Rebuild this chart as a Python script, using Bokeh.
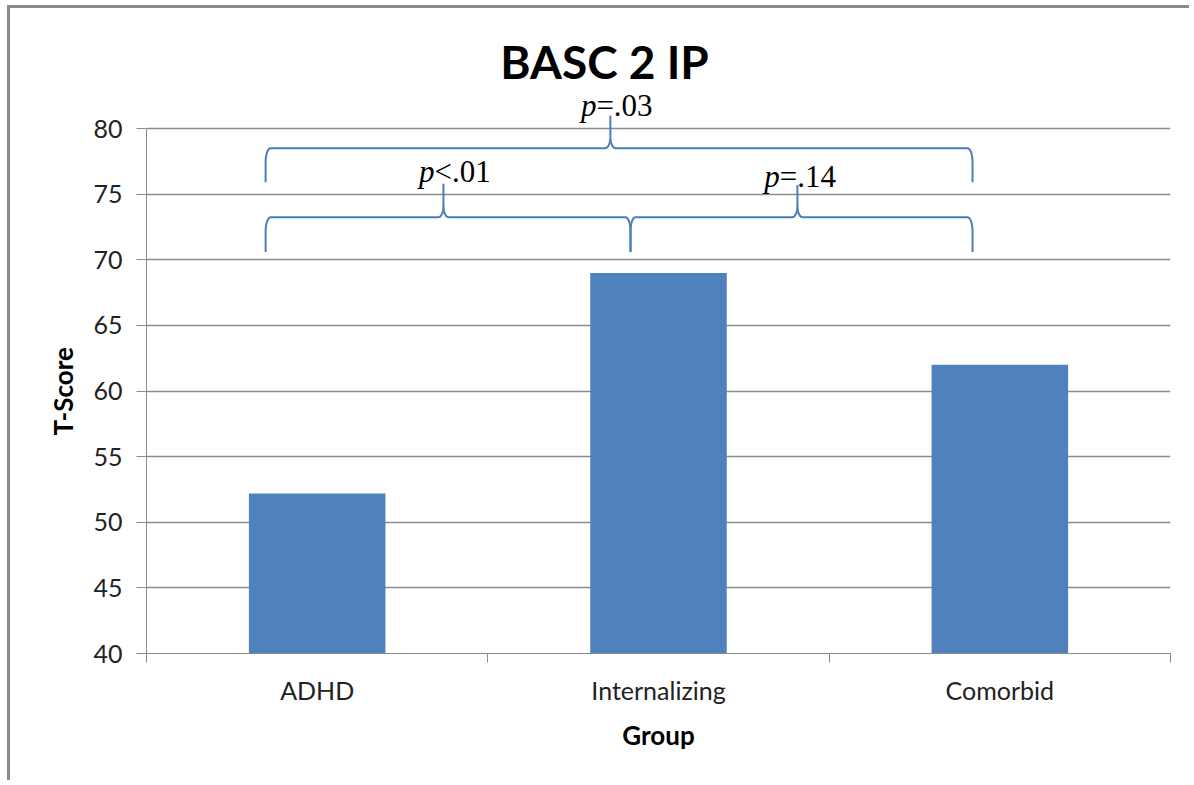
import numpy as np
from bokeh.plotting import figure
from bokeh.models import Range1d, FixedTicker, ColumnDataSource, Title
from bokeh.core.properties import value
from bokeh.embed import file_html
from bokeh.resources import INLINE

# ---- data ----
categories = ["ADHD", "Internalizing", "Comorbid"]
tscores = [52.2, 69.0, 62.0]
y_ticks = [40, 45, 50, 55, 60, 65, 70, 75, 80]
title_text = "BASC 2 IP"
x_label = "Group"
y_label = "T-Score"

# comparison braces: start, end, peak (category units), level, tip, ends (T-score units)
brace_x0 = [0.349, 0.349, 1.418]
brace_x1 = [2.42, 1.418, 2.42]
brace_peak = [1.359, 0.870, 1.907]
brace_level = [78.5, 73.24, 73.24]
brace_tip = [81.0, 75.8, 75.7]
brace_end = [75.9, 70.6, 70.6]

p_prefix = ["p", "p", "p"]
p_rest = ["=.03", "<.01", "=.14"]
p_x = [1.318, 0.844, 1.855]
p_y = [81.75, 76.72, 76.34]

# ---- layout (page px) ----
PAGE_W, PAGE_H = 1192, 783
off_x, off_y = 10, 8          # canvas origin in the page (after chart border)
W, H = PAGE_W - off_x, PAGE_H - off_y
frame_left_pg, frame_right_pg, frame_bottom_pg = 146, 1170, 653
left = frame_left_pg - off_x
right = PAGE_W - frame_right_pg
bottom = PAGE_H - frame_bottom_pg
ymin, ymax_axis = 40, 80
ppu_y = 525 / 40.0
ppu_x = (frame_right_pg - frame_left_pg) / 3.0
y_top = ymin + (frame_bottom_pg - off_y) / ppu_y

p = figure(width=W, height=H, output_backend="svg", toolbar_location=None,
           x_range=Range1d(0, 3), y_range=Range1d(ymin, y_top),
           min_border_left=left, min_border_right=right, min_border_top=0,
           min_border_bottom=bottom, title=None,
           styles={"border-left": "3px solid #8a8a8a",
                   "border-top": "3px solid #8a8a8a",
                   "margin-left": "7px", "margin-top": "5px"})
p.outline_line_color = None
p.background_fill_color = "white"
p.border_fill_color = "white"

grid_col = "#8c8c8c"
# y axis
p.yaxis.ticker = FixedTicker(ticks=y_ticks)
p.yaxis.bounds = (ymin, ymax_axis)
p.yaxis.major_tick_out = 10
p.yaxis.major_tick_in = 0
p.yaxis.minor_tick_line_color = None
p.yaxis.axis_line_color = grid_col
p.yaxis.major_tick_line_color = grid_col
p.yaxis.major_label_text_font = "Lato"
p.yaxis.major_label_text_font_size = "25px"
p.yaxis.major_label_text_color = "#222222"
p.yaxis.major_label_standoff = 14

# y axis title (centred on the 40-80 axis span)
p.add_layout(Title(text=y_label, align="left", offset=218, standoff=24,
                   text_font="Lato", text_font_style="bold",
                   text_font_size="26px", text_color="black"), "left")

# x axis
xpos = [i + 0.5 for i in range(len(categories))]
p.xaxis.ticker = FixedTicker(ticks=xpos, minor_ticks=list(range(len(categories) + 1)))
p.xaxis.major_label_overrides = {x: c for x, c in zip(xpos, categories)}
p.xaxis.major_tick_line_color = None
p.xaxis.major_tick_out = 9
p.xaxis.minor_tick_out = 9
p.xaxis.minor_tick_in = 0
p.xaxis.minor_tick_line_color = grid_col
p.xaxis.axis_line_color = grid_col
p.xaxis.major_label_text_font = "Lato"
p.xaxis.major_label_text_font_size = "25px"
p.xaxis.major_label_text_color = "#222222"
p.xaxis.major_label_standoff = 12
p.xaxis.axis_label = x_label
p.xaxis.axis_label_text_font = "Lato"
p.xaxis.axis_label_text_font_style = "bold"
p.xaxis.axis_label_text_font_size = "26px"
p.xaxis.axis_label_text_color = "black"
p.xaxis.axis_label_standoff = 11

p.xgrid.grid_line_color = None
p.ygrid.ticker = FixedTicker(ticks=y_ticks)
p.ygrid.grid_line_color = grid_col
p.ygrid.grid_line_width = 1.3

# bars
src = ColumnDataSource(dict(x=xpos, top=tscores, cat=categories))
p.vbar(x="x", top="top", bottom=ymin, width=0.4, source=src,
       fill_color="#4F81BD", line_color=None)

# braces
def brace(x0, x1, xp, lvl, tip, end):
    rx = 5 / ppu_x
    ry = 14 / ppu_y
    rpy = 12 / ppu_y
    t = np.linspace(0, np.pi / 2, 12)
    xs, ys = [x0], [end]
    xs += list(x0 + rx - rx * np.cos(t)); ys += list(lvl - ry + ry * np.sin(t))
    xs += list(xp - rx + rx * np.sin(t)); ys += list(lvl + rpy - rpy * np.cos(t))
    xs += [xp, xp]; ys += [tip, lvl + rpy]
    xs += list(xp + rx - rx * np.cos(t)); ys += list(lvl + rpy - rpy * np.sin(t))
    xs += list(x1 - rx + rx * np.sin(t)); ys += list(lvl - ry + ry * np.cos(t))
    xs += [x1]; ys += [end]
    return xs, ys

bx, by = [], []
for args in zip(brace_x0, brace_x1, brace_peak, brace_level, brace_tip, brace_end):
    a, b = brace(*args)
    bx.append(a); by.append(b)
p.multi_line(xs=bx, ys=by, line_color="#4A7EBB", line_width=2)

# p-value labels
p.text(x=p_x, y=p_y, text=p_prefix, text_font=value("Liberation Serif"),
       text_font_style="italic", text_font_size="31px", text_align="right",
       text_baseline="alphabetic", text_color="black")
p.text(x=p_x, y=p_y, text=p_rest, text_font=value("Liberation Serif"),
       text_font_size="31px", text_align="left",
       text_baseline="alphabetic", text_color="black")

# chart title
title_x = (604 - frame_left_pg) / ppu_x
title_y = ymin + (frame_bottom_pg - 61) / ppu_y
p.text(x=[title_x], y=[title_y], text=[title_text], text_font=value("Lato"),
       text_font_style="bold", text_font_size="46px", text_align="center",
       text_baseline="alphabetic", text_color="black")

open("out.html", "w").write(file_html(p, INLINE))
